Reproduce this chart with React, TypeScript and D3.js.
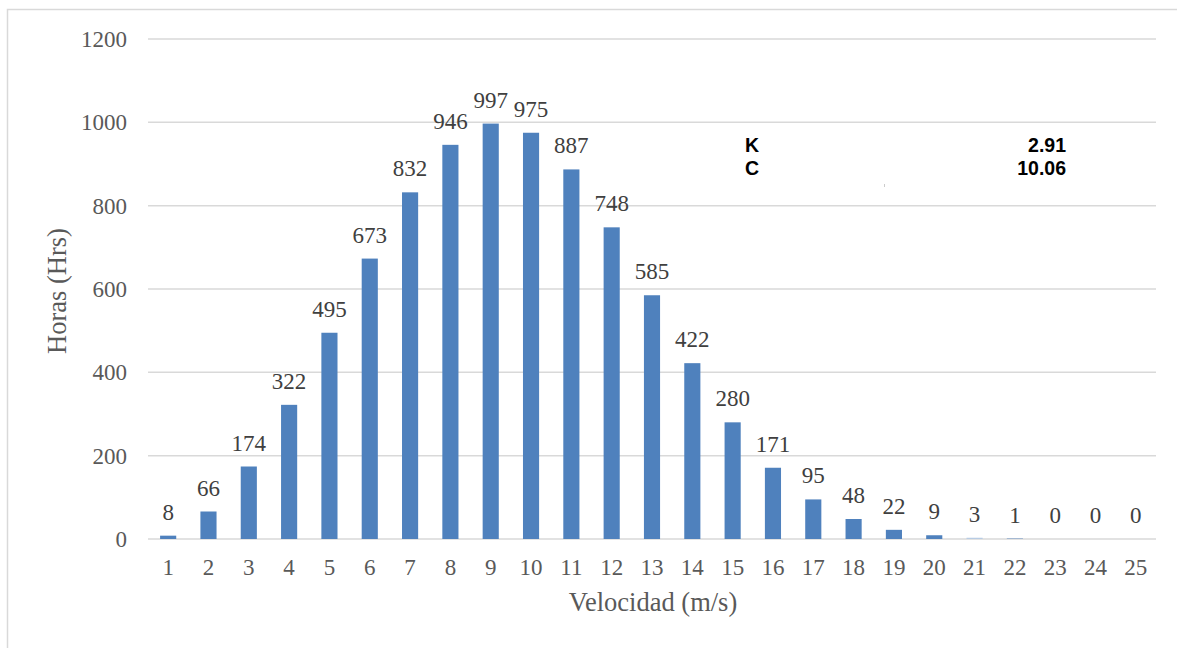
import React from "react";
import * as d3 from "d3";

const categories = ["1","2","3","4","5","6","7","8","9","10","11","12","13","14","15","16","17","18","19","20","21","22","23","24","25"];
const hours = [8,66,174,322,495,673,832,946,997,975,887,748,585,422,280,171,95,48,22,9,3,1,0,0,0];
const yTicks = [0,200,400,600,800,1000,1200];
const paramNames = ["K","C"];
const paramValues = ["2.91","10.06"];

export default function App() {
  const W = 1177, H = 648;
  const x = d3.scaleBand<string>().domain(categories).range([148, 1156]).paddingInner(0.6).paddingOuter(0.3);
  const y = d3.scaleLinear().domain([0, 1200]).range([539, 39]);
  const serif = "'Liberation Serif', 'Times New Roman', serif";
  const sans = "'Liberation Sans', Arial, sans-serif";
  return (
    <svg width={W} height={H} style={{ position: "absolute", left: 0, top: 0, background: "#fff" }}>
      <rect x={7.5} y={9.5} width={W + 10} height={H + 10} fill="#fff" stroke="#d9d9d9" strokeWidth={1.5} />
      {yTicks.map((t) => (
        <g key={t}>
          <line x1={148} x2={1156} y1={y(t)} y2={y(t)} stroke="#d9d9d9" strokeWidth={1.5} />
          <text x={127} y={y(t)} dy="0.35em" textAnchor="end" fontFamily={serif} fontSize={23} fill="#595959">{t}</text>
        </g>
      ))}
      {categories.map((c, i) => {
        const v = hours[i];
        const bx = x(c)!;
        const cx = bx + x.bandwidth() / 2;
        return (
          <g key={c}>
            {v > 0 && (
              <rect x={bx} y={y(v)} width={x.bandwidth()} height={y(0) - y(v)} fill={c === "21" ? "#b8cce4" : "#4f81bd"} />
            )}
            <text x={cx} y={y(v) - 16} textAnchor="middle" fontFamily={serif} fontSize={23} fill="#404040">{v}</text>
            <text x={cx} y={575} textAnchor="middle" fontFamily={serif} fontSize={23} fill="#595959">{c}</text>
          </g>
        );
      })}
      <text x={653} y={611} textAnchor="middle" fontFamily={serif} fontSize={26.5} fill="#595959">Velocidad (m/s)</text>
      <text transform={`translate(66,291) rotate(-90)`} textAnchor="middle" fontFamily={serif} fontSize={26.5} fill="#595959">Horas (Hrs)</text>
      {paramNames.map((n, i) => (
        <g key={n}>
          <text x={745} y={152 + i * 23} fontFamily={sans} fontWeight="bold" fontSize={19.5} fill="#000">{n}</text>
          <text x={1066} y={152 + i * 23} textAnchor="end" fontFamily={sans} fontWeight="bold" fontSize={19.5} fill="#000">{paramValues[i]}</text>
        </g>
      ))}
      <rect x={884} y={184} width={1} height={3} fill="#cccccc" />
    </svg>
  );
}
